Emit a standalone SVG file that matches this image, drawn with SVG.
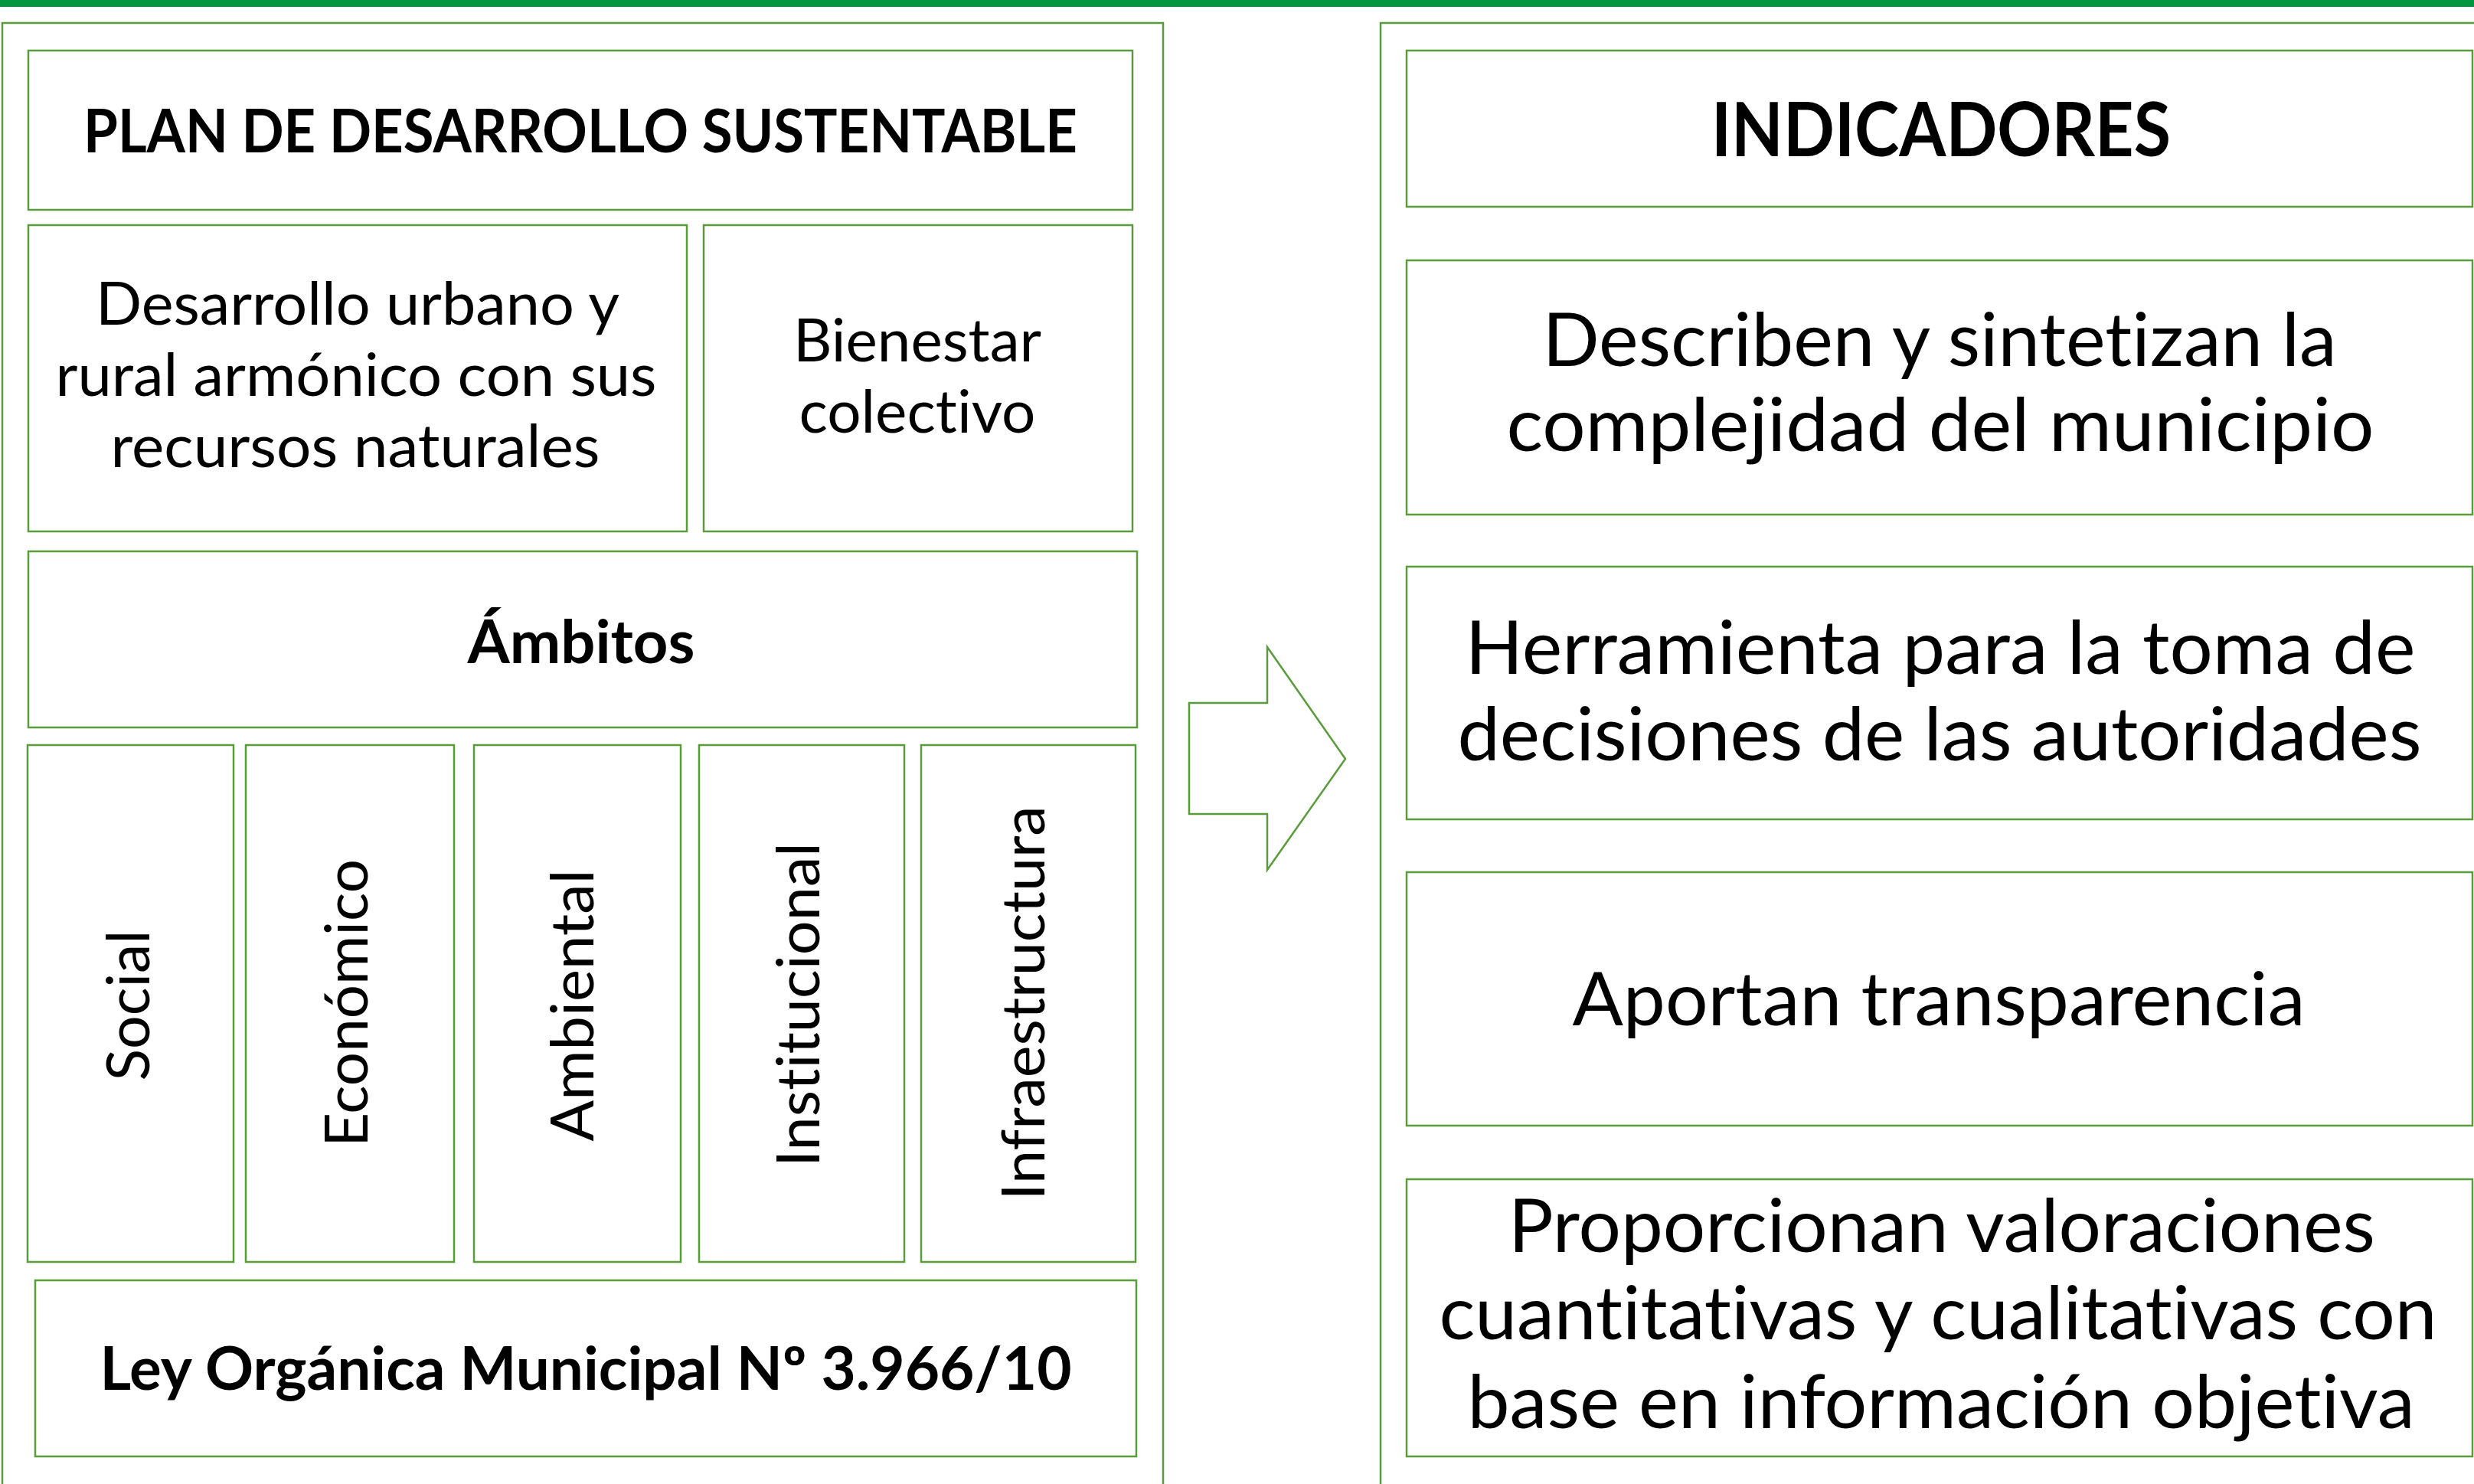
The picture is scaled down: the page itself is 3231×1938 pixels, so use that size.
<svg xmlns="http://www.w3.org/2000/svg" width="3231" height="1938" viewBox="0 0 3231 1938">
<style>
.box{fill:#ffffff;stroke:#5a9b3c;stroke-width:2.5}
.frame{fill:none;stroke:#5a9b3c;stroke-width:2.5}
text{font-family:Lato,"Open Sans","Liberation Sans",sans-serif;fill:#000000;text-anchor:middle;font-variant-ligatures:none;font-feature-settings:"liga" 0,"clig" 0,"dlig" 0}
.b{font-weight:700;font-size:78px}
.r{font-size:78px}
.L{font-size:97px}
.LB{font-weight:700;font-size:97px}
</style>
<rect x="0" y="0" width="3231" height="9" fill="#009640"/>
<rect class="frame" x="3" y="30" width="1516" height="2000"/>
<rect class="frame" x="1803" y="30" width="1500" height="2000"/>
<g id="plan"><rect class="box" x="37" y="66" width="1442" height="208"/><text class="b" x="758" y="199" textLength="1298" lengthAdjust="spacingAndGlyphs">PLAN DE DESARROLLO SUSTENTABLE</text></g>
<g id="desarrollo"><rect class="box" x="37" y="294" width="860" height="400"/>
<text class="r" x="467" y="424" textLength="684" lengthAdjust="spacingAndGlyphs">Desarrollo urbano y</text>
<text class="r" x="465" y="517" textLength="785" lengthAdjust="spacingAndGlyphs">rural armónico con sus</text>
<text class="r" x="464" y="610" textLength="639" lengthAdjust="spacingAndGlyphs">recursos naturales</text></g>
<g id="bienestar"><rect class="box" x="919" y="294" width="560" height="400"/>
<text class="r" x="1198" y="472" textLength="324" lengthAdjust="spacingAndGlyphs">Bienestar</text>
<text class="r" x="1198" y="565" textLength="309" lengthAdjust="spacingAndGlyphs">colectivo</text></g>
<g id="ambitos"><rect class="box" x="37" y="720" width="1448" height="230"/><text class="b" x="759" y="866" textLength="297" lengthAdjust="spacingAndGlyphs">Ámbitos</text></g>
<g id="social"><rect class="box" x="36" y="973" width="269" height="675"/><text class="r" transform="translate(195,1313) rotate(-90)" x="0" y="0" textLength="197" lengthAdjust="spacingAndGlyphs">Social</text></g>
<g id="economico"><rect class="box" x="321" y="973" width="272" height="675"/><text class="r" transform="translate(480,1310) rotate(-90)" x="0" y="0" textLength="376" lengthAdjust="spacingAndGlyphs">Económico</text></g>
<g id="ambiental"><rect class="box" x="619" y="973" width="270" height="675"/><text class="r" transform="translate(775,1313) rotate(-90)" x="0" y="0" textLength="355" lengthAdjust="spacingAndGlyphs">Ambiental</text></g>
<g id="institucional"><rect class="box" x="913" y="973" width="268" height="675"/><text class="r" transform="translate(1070,1312) rotate(-90)" x="0" y="0" textLength="424" lengthAdjust="spacingAndGlyphs">Institucional</text></g>
<g id="infraestructura"><rect class="box" x="1203" y="973" width="280" height="675"/><text class="r" transform="translate(1364,1310) rotate(-90)" x="0" y="0" textLength="515" lengthAdjust="spacingAndGlyphs">Infraestructura</text></g>
<g id="ley"><rect class="box" x="46" y="1672" width="1438" height="230"/><text class="b" x="765" y="1815" textLength="1269" lengthAdjust="spacingAndGlyphs">Ley Orgánica Municipal Nº 3.966/10</text></g>
<g id="connectors"><polygon class="frame" points="1553,918 1655,918 1655,845 1757,991 1655,1136 1655,1063 1553,1063"/></g>
<g id="indicadores"><rect class="box" x="1837" y="66" width="1392" height="204"/><text class="LB" x="2535" y="204" textLength="600" lengthAdjust="spacingAndGlyphs">INDICADORES</text></g>
<g id="describen"><rect class="box" x="1837" y="340" width="1392" height="332"/>
<text class="L" x="2533" y="478" textLength="1037" lengthAdjust="spacingAndGlyphs">Describen y sintetizan la</text>
<text class="L" x="2534" y="589" textLength="1133" lengthAdjust="spacingAndGlyphs">complejidad del municipio</text></g>
<g id="herramienta"><rect class="box" x="1837" y="740" width="1392" height="330"/>
<text class="L" x="2534" y="880" textLength="1241" lengthAdjust="spacingAndGlyphs">Herramienta para la toma de</text>
<text class="L" x="2533" y="993" textLength="1259" lengthAdjust="spacingAndGlyphs">decisiones de las autoridades</text></g>
<g id="aportan"><rect class="box" x="1837" y="1139" width="1392" height="331"/>
<text class="L" x="2532" y="1339" textLength="957" lengthAdjust="spacingAndGlyphs">Aportan transparencia</text></g>
<g id="proporcionan"><rect class="box" x="1837" y="1540" width="1392" height="362"/>
<text class="L" x="2536" y="1635" textLength="1132" lengthAdjust="spacingAndGlyphs">Proporcionan valoraciones</text>
<text class="L" x="2531" y="1749" textLength="1303" lengthAdjust="spacingAndGlyphs">cuantitativas y cualitativas con</text>
<text class="L" x="2535" y="1865" textLength="1237" lengthAdjust="spacingAndGlyphs">base en información objetiva</text></g>
</svg>
